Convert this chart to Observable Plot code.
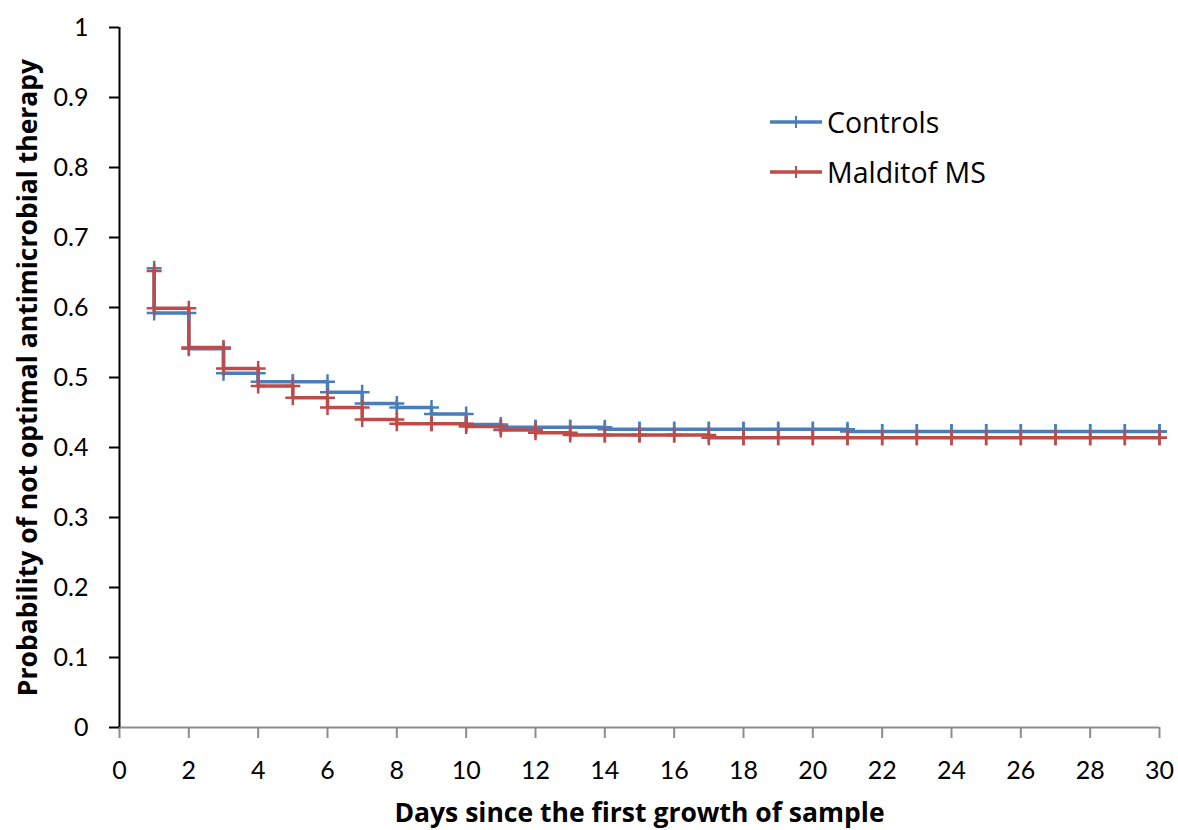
<!DOCTYPE html>
<html>
<head>
<meta charset="utf-8">
<script src="https://cdn.jsdelivr.net/npm/d3@7"></script>
<script src="https://cdn.jsdelivr.net/npm/@observablehq/plot@0.6"></script>
<style>
  html, body { margin: 0; padding: 0; background: #fff; }
  #wrap { position: relative; width: 1178px; height: 830px; font-family: Lato, "Open Sans", sans-serif; }
  .legend { position: absolute; left: 768px; font-size: 28.5px; font-family: "Open Sans", sans-serif; color: #000; display: flex; align-items: center; }
  .legend svg { margin-right: 3px; }
</style>
</head>
<body>
<div id="wrap"></div>
<script>
// Days since first growth (events at each integer day)
const days = d3.range(1, 31);
// Probability at day 1 before the first drop
const controlsStart = 0.656;
const malditofStart = 0.652;
// Probability after each day's step (days 1..30)
const controls = [0.592, 0.541, 0.506, 0.494, 0.494, 0.479, 0.463, 0.457, 0.448, 0.433,
                  0.429, 0.429, 0.429, 0.426, 0.426, 0.426, 0.426, 0.426, 0.426, 0.426,
                  0.423, 0.423, 0.423, 0.423, 0.423, 0.423, 0.423, 0.423, 0.423, 0.423];
const malditof = [0.599, 0.543, 0.513, 0.488, 0.471, 0.457, 0.440, 0.434, 0.434, 0.430,
                  0.425, 0.421, 0.418, 0.418, 0.418, 0.418, 0.414, 0.414, 0.414, 0.414,
                  0.414, 0.414, 0.414, 0.414, 0.414, 0.414, 0.414, 0.414, 0.414, 0.414];
const seriesNames = ["Controls", "Malditof MS"];
const seriesColors = ["#4A7EBB", "#BE4B48"];
const xTicks = d3.range(0, 31, 2);
const yTicks = d3.range(0, 11).map(i => i / 10);
const xTitle = "Days since the first growth of sample";
const yTitle = "Probability of not optimal antimicrobial therapy";

function linePoints(name, start, vals) {
  const pts = [{series: name, day: days[0], p: start}];
  days.forEach((d, i) => pts.push({series: name, day: d, p: vals[i]}));
  return pts;
}
function markerPoints(name, start, vals) {
  const pts = [];
  days.forEach((d, i) => {
    pts.push({series: name, day: d, p: i === 0 ? start : vals[i - 1]});
    pts.push({series: name, day: d, p: vals[i]});
  });
  return pts;
}
const lineData = [...linePoints(seriesNames[0], controlsStart, controls),
                  ...linePoints(seriesNames[1], malditofStart, malditof)];
const markData = [...markerPoints(seriesNames[0], controlsStart, controls),
                  ...markerPoints(seriesNames[1], malditofStart, malditof)];

const plusSymbol = {
  draw(ctx, size) {
    const r = Math.sqrt(size / Math.PI);
    ctx.moveTo(-r, 0); ctx.lineTo(r, 0);
    ctx.moveTo(0, -r); ctx.lineTo(0, r);
  }
};

const chart = Plot.plot({
  width: 1178,
  height: 830,
  marginLeft: 119,
  marginRight: 19,
  marginTop: 27,
  marginBottom: 103,
  style: {fontFamily: "Lato, 'Open Sans', sans-serif", fontSize: "25px", color: "#000", background: "#fff"},
  x: {domain: [0, 30]},
  y: {domain: [0, 1]},
  color: {domain: seriesNames, range: seriesColors},
  marks: [
    Plot.ruleY([0], {stroke: "#8c8c8c", strokeWidth: 2}),
    Plot.axisX({ticks: xTicks, tickSize: 11, tickPadding: 23, stroke: "#8c8c8c", strokeWidth: 2, fill: "#000", label: null, strokeOpacity: 1}),
    Plot.axisY({ticks: yTicks, tickSize: 10, tickPadding: 21, strokeWidth: 2, label: null, strokeOpacity: 1,
      tickFormat: d => (d === 0 ? "0" : d === 1 ? "1" : d.toFixed(1))}),
    Plot.ruleX([0], {stroke: "#000", strokeWidth: 2}),
    Plot.line(lineData, {x: "day", y: "p", z: "series", stroke: "series", curve: "step-after", strokeWidth: 3.5}),
    Plot.dot(markData, {x: "day", y: "p", stroke: "series", symbol: plusSymbol, r: 7.5, strokeWidth: 2.5, fill: "none"}),
    Plot.text([xTitle], {frameAnchor: "bottom", dy: 94, fontWeight: "bold", fontSize: 26.5, fontFamily: "Open Sans", textAnchor: "middle"}),
    Plot.text([yTitle], {frameAnchor: "left", dx: -91, rotate: -90, fontWeight: "bold", fontSize: 26.5, fontFamily: "Open Sans", textAnchor: "middle"})
  ]
});

const wrap = document.getElementById("wrap");
wrap.appendChild(chart);

seriesNames.forEach((name, i) => {
  const div = document.createElement("div");
  div.className = "legend";
  div.style.top = (102 + i * 50) + "px";
  div.innerHTML = `<svg width="56" height="40"><line x1="2" y1="20" x2="54" y2="20" stroke="${seriesColors[i]}" stroke-width="3.5"/><line x1="28" y1="14" x2="28" y2="26" stroke="${seriesColors[i]}" stroke-width="2"/></svg><span>${name}</span>`;
  wrap.appendChild(div);
});
</script>
</body>
</html>
